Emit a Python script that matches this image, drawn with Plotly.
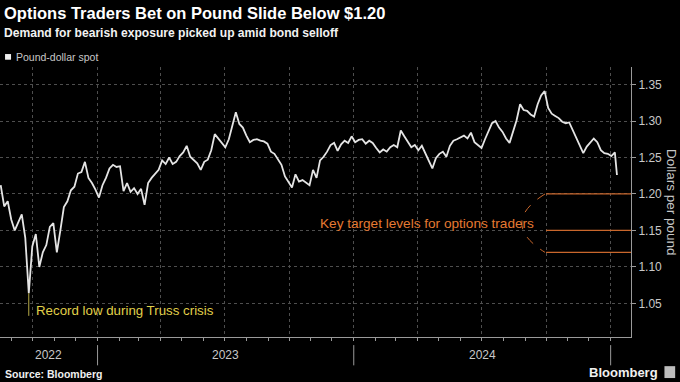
import plotly.graph_objects as go
import pandas as pd

# ---------------- data ----------------
START_DATE = "2022-08-16"
STEP = "5D"
LAST_DATE = "2025-01-10"

spot_values = [
    1.212, 1.183, 1.190, 1.165, 1.150, 1.160, 1.172, 1.140, 1.064, 1.128,
    1.145, 1.100, 1.120, 1.130, 1.155, 1.160, 1.120, 1.150, 1.182, 1.190,
    1.205, 1.210, 1.228, 1.230, 1.244, 1.222, 1.215, 1.206, 1.195, 1.212,
    1.222, 1.235, 1.240, 1.237, 1.238, 1.204, 1.215, 1.203, 1.208, 1.200,
    1.207, 1.185, 1.215, 1.222, 1.227, 1.233, 1.246, 1.241, 1.250, 1.241,
    1.244, 1.252, 1.257, 1.266, 1.251, 1.246, 1.242, 1.233, 1.244, 1.247,
    1.260, 1.282, 1.276, 1.271, 1.264, 1.275, 1.293, 1.312, 1.296, 1.291,
    1.280, 1.271, 1.274, 1.275, 1.273, 1.272, 1.269, 1.258, 1.255, 1.247,
    1.240, 1.224, 1.217, 1.209, 1.227, 1.217, 1.219, 1.216, 1.212, 1.233,
    1.222, 1.246, 1.251, 1.258, 1.267, 1.270, 1.259, 1.268, 1.273, 1.270,
    1.279, 1.271, 1.274, 1.275, 1.269, 1.273, 1.270, 1.263, 1.257, 1.261,
    1.258, 1.264, 1.267, 1.264, 1.287, 1.279, 1.272, 1.264, 1.267, 1.260,
    1.266, 1.256, 1.246, 1.235, 1.249, 1.255, 1.258, 1.251, 1.266, 1.273,
    1.275, 1.278, 1.280, 1.276, 1.284, 1.271, 1.267, 1.263, 1.275, 1.286,
    1.297, 1.300, 1.291, 1.285, 1.276, 1.270, 1.285, 1.301, 1.323, 1.315,
    1.314, 1.309, 1.306, 1.323, 1.335, 1.341, 1.318, 1.310, 1.307, 1.304,
    1.299, 1.297, 1.298, 1.288, 1.276, 1.267, 1.256, 1.265, 1.271, 1.276,
    1.271, 1.260, 1.256, 1.255, 1.252, 1.257,
    1.226,
]
dates = list(pd.date_range(START_DATE, periods=len(spot_values) - 1, freq=STEP)) + [pd.Timestamp(LAST_DATE)]

x_range = ["2022-08-15", "2025-01-30"]
y_range = [1.004, 1.374]
y_ticks = [1.05, 1.10, 1.15, 1.20, 1.25, 1.30, 1.35]
y_tick_labels = ["1.05", "1.10", "1.15", "1.20", "1.25", "1.30", "1.35"]

year_labels = ["2022", "2023", "2024"]
year_label_dates = ["2022-10-23", "2023-07-02", "2024-07-02"]
year_starts = ["2023-01-01", "2024-01-01", "2025-01-01"]

target_levels = [1.20, 1.15, 1.12]
target_start = "2024-10-01"
record_low_date = "2022-09-25"
record_low_value = 1.064

TITLE = "Options Traders Bet on Pound Slide Below $1.20"
SUBTITLE = "Demand for bearish exposure picked up amid bond selloff"
LEGEND = "Pound-dollar spot"
Y_TITLE = "Dollars per pound"
TRUSS_NOTE = "Record low during Truss crisis"
TARGET_NOTE = "Key target levels for options traders"
SOURCE = "Source: Bloomberg"

# ---------------- styling ----------------
FONT = "Liberation Sans"
BG = "#000000"
GRID = "#4e4e4e"
AXIS = "#9a9a9a"
TXT = "#c8c8c8"
LINE = "#e4e4e4"
YELLOW = "#e0d04a"
ORANGE_T = "#e57a32"
ORANGE_L = "#c9672c"

fig = go.Figure()
fig.add_trace(go.Scatter(
    x=dates, y=spot_values, mode="lines",
    line=dict(color=LINE, width=1.8), showlegend=False, hoverinfo="skip",
))

shapes = []
for lvl in target_levels:
    shapes.append(dict(type="line", xref="x", yref="y", x0=target_start, x1=x_range[1],
                       y0=lvl, y1=lvl, line=dict(color=ORANGE_L, width=1.2)))
x_start_paper = 0.8637
shapes.append(dict(type="path", xref="paper", yref="y",
                   path=f"M {x_start_paper},{target_levels[0]} Q 0.79,1.16 {x_start_paper},{target_levels[2]}",
                   line=dict(color=ORANGE_L, width=1, dash="dash")))
shapes.append(dict(type="line", xref="x", yref="y", x0=record_low_date, x1=record_low_date,
                   y0=record_low_value, y1=1.033, line=dict(color="#b8ac48", width=1)))
for ys in year_starts:
    shapes.append(dict(type="line", xref="x", yref="paper", x0=ys, x1=ys, y0=-0.03, y1=-0.105,
                       line=dict(color=AXIS, width=1)))
shapes.append(dict(type="rect", xref="paper", yref="paper", x0=0.008, x1=0.0175, y0=1.027, y1=1.048,
                   fillcolor="#eeeeee", line=dict(width=0)))
shapes.append(dict(type="rect", xref="paper", yref="paper", x0=1.053, x1=1.07, y0=-0.152, y1=-0.108,
                   fillcolor="#bdbdbd", line=dict(width=0)))

annotations = [
    dict(text=f"<b>{TITLE}</b>", xref="paper", yref="paper", x=0.003, y=1.2, xanchor="left", yanchor="middle",
         showarrow=False, font=dict(family=FONT, size=16.5, color="#ffffff")),
    dict(text=f"<b>{SUBTITLE}</b>", xref="paper", yref="paper", x=0.003, y=1.126, xanchor="left", yanchor="middle",
         showarrow=False, font=dict(family=FONT, size=12.1, color="#f2f2f2")),
    dict(text=LEGEND, xref="paper", yref="paper", x=0.022, y=1.037, xanchor="left", yanchor="middle",
         showarrow=False, font=dict(family=FONT, size=10.5, color=TXT)),
    dict(text=Y_TITLE, xref="paper", yref="paper", x=1.065, y=0.5, xanchor="center", yanchor="middle",
         textangle=90, showarrow=False, font=dict(family=FONT, size=13.5, color=TXT)),
    dict(text=TRUSS_NOTE, xref="x", yref="y", x="2022-10-03", y=1.041, xanchor="left", yanchor="middle",
         showarrow=False, font=dict(family=FONT, size=13.3, color=YELLOW)),
    dict(text=TARGET_NOTE, xref="paper", yref="y", x=0.85, y=1.16, xanchor="right", yanchor="middle",
         showarrow=False, font=dict(family=FONT, size=13.6, color=ORANGE_T)),
    dict(text=f"<b>{SOURCE}</b>", xref="paper", yref="paper", x=0.004, y=-0.137, xanchor="left", yanchor="middle",
         showarrow=False, font=dict(family=FONT, size=10.5, color="#f0f0f0")),
    dict(text="<b>Bloomberg</b>", xref="paper", yref="paper", x=1.046, y=-0.131, xanchor="right", yanchor="middle",
         showarrow=False, font=dict(family=FONT, size=13, color="#f0f0f0")),
]
for lab, d in zip(year_labels, year_label_dates):
    annotations.append(dict(text=lab, xref="x", yref="paper", x=d, y=-0.067, xanchor="center", yanchor="middle",
                            showarrow=False, font=dict(family=FONT, size=12, color=TXT)))

fig.update_layout(
    width=680, height=382,
    margin=dict(l=0, r=49, t=67, b=45),
    paper_bgcolor=BG, plot_bgcolor=BG,
    showlegend=False,
    shapes=shapes, annotations=annotations,
    xaxis=dict(
        type="date", range=x_range, showticklabels=False,
        tick0="2022-10-01", dtick="M3", ticks="outside", ticklen=3, tickcolor=AXIS,
        showgrid=True, gridcolor=GRID, griddash="dot", gridwidth=1,
        minor=dict(dtick="M1", ticks="outside", ticklen=3, tickcolor=AXIS, showgrid=False),
        showline=True, linecolor=AXIS, linewidth=1, zeroline=False,
    ),
    yaxis=dict(
        side="right", range=y_range, tickvals=y_ticks, ticktext=y_tick_labels,
        ticks="outside", ticklen=4, tickcolor=AXIS,
        tickfont=dict(family=FONT, size=12, color=TXT),
        showgrid=True, gridcolor=GRID, griddash="dot", gridwidth=1,
        showline=True, linecolor=AXIS, linewidth=1, zeroline=False,
    ),
)

fig.write_html(
    "out.html",
    config={"displayModeBar": False, "staticPlot": True},
    post_script="document.body.style.margin='0';document.body.style.overflow='hidden';document.body.style.background='#000';",
)
